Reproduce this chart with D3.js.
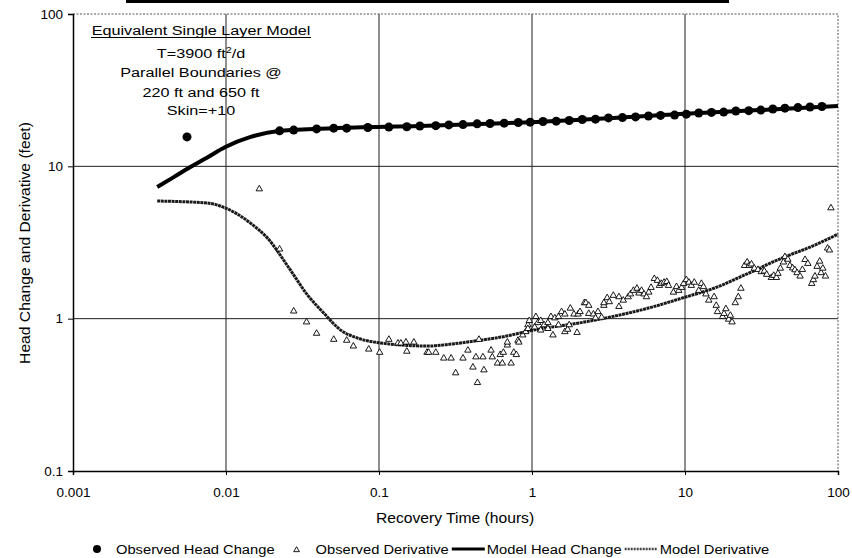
<!DOCTYPE html>
<html>
<head>
<meta charset="utf-8">
<script src="https://cdn.jsdelivr.net/npm/d3@7"></script>
<style>
  body { margin: 0; background: #fff; }
  text { font-family: "Liberation Sans", Arial, sans-serif; fill: #000; }
</style>
</head>
<body>
<div id="chart"></div>
<script>
// observed head change (hours, feet)
var obsHeadT = [0.00556, 0.0224, 0.0277, 0.0391, 0.0506, 0.0615, 0.0845, 0.116, 0.152, 0.185,
    0.235, 0.286, 0.354, 0.438, 0.532, 0.658, 0.813, 0.973, 1.18, 1.44,
    1.75, 2.13, 2.60, 3.16, 3.90, 4.75, 5.77, 6.92, 8.55, 10.2,
    12.3, 14.9, 17.9, 21.5, 26.1, 31.3, 37.5, 45.0, 54.7, 65.6, 78.5];
var obsHeadV = [15.6, 17.1, 17.3, 17.6, 17.8, 17.8, 18.0, 18.1, 18.2, 18.4,
    18.5, 18.7, 18.8, 19.0, 19.1, 19.2, 19.4, 19.5, 19.7, 19.8,
    20.0, 20.3, 20.4, 20.8, 20.9, 21.1, 21.4, 21.6, 21.7, 22.0,
    22.4, 22.6, 22.7, 23.1, 23.2, 23.4, 23.8, 24.1, 24.3, 24.5, 24.7];

// observed derivative
var obsDerivT = [0.0165, 0.0224, 0.0277, 0.0336, 0.0391, 0.0506, 0.0615, 0.068, 0.0857, 0.101,
    0.116, 0.133, 0.139, 0.150, 0.152, 0.169, 0.206, 0.211, 0.235, 0.265, 0.296,
    0.317, 0.354, 0.381, 0.411, 0.43, 0.44, 0.45, 0.478, 0.485, 0.54, 0.55,
    0.595, 0.62, 0.64, 0.65, 0.69, 0.69, 0.73, 0.76, 0.79, 0.81, 0.82, 0.87, 0.91,
    0.94, 0.94, 0.96, 1.04, 1.06, 1.09, 1.14, 1.14, 1.2, 1.27, 1.27, 1.33, 1.37, 1.41,
    1.49, 1.49, 1.56, 1.64, 1.64, 1.71, 1.75, 1.78, 1.88, 1.97, 2.0, 2.06, 2.2, 2.25,
    2.35, 2.35, 2.52, 2.6, 2.7, 2.85, 2.95, 2.95, 3.1, 3.2, 3.4, 3.7, 3.7, 3.95, 4.25,
    4.4, 4.6, 4.85, 5.0, 5.2, 5.4, 5.6, 5.8, 6.0, 6.3, 6.6, 6.8, 7.0, 7.3, 7.6, 7.8, 8.4,
    8.8, 9.1, 9.5, 9.8, 10.2, 10.6, 11.0, 11.5, 12.3, 12.8, 13.2, 13.7, 14.3, 15.5, 16.0, 16.3, 17.6,
    18.0, 18.5, 19.3, 19.8, 20.3, 21.3, 22.3, 23.2, 24.5, 25.5, 26.3, 27.2, 28.4, 30.0, 31.5,
    33.0, 34.2, 36.7, 38.0, 39.6, 40.5, 42.0, 44.0, 45.0, 47.0, 48.5, 50.5, 52.3, 54.0, 56.5,
    58.5, 60.9, 63.5, 67.3, 69.0, 70.7, 73.0, 75.9, 77.5, 79.6, 82.8, 85.5, 87.9, 89.9];
var obsDerivV = [7.1, 2.86, 1.12, 0.95, 0.80, 0.73, 0.72, 0.66, 0.63, 0.60,
    0.73, 0.69, 0.69, 0.70, 0.61, 0.70, 0.60, 0.60, 0.60, 0.55, 0.55,
    0.44, 0.55, 0.62, 0.48, 0.56, 0.38, 0.73, 0.56, 0.46, 0.62, 0.56,
    0.51, 0.58, 0.51, 0.60, 0.67, 0.70, 0.51, 0.60, 0.58, 0.72, 0.70, 0.78, 0.82,
    0.91, 0.86, 0.97, 0.88, 1.03, 0.94, 0.97, 0.84, 0.91, 0.94, 0.86, 1.03, 0.78, 1.01,
    1.03, 0.91, 1.11, 0.82, 1.07, 0.85, 0.91, 1.17, 1.07, 0.81, 1.07, 1.11, 1.27, 1.27,
    1.08, 1.22, 1.07, 1.01, 1.11, 1.02, 1.22, 1.27, 1.37, 1.29, 1.42, 1.20, 1.39, 1.32, 1.39,
    1.45, 1.53, 1.58, 1.47, 1.53, 1.45, 1.39, 1.49, 1.60, 1.83, 1.78, 1.65, 1.70, 1.73, 1.75, 1.65, 1.49,
    1.62, 1.53, 1.60, 1.70, 1.80, 1.73, 1.65, 1.73, 1.53, 1.70, 1.62, 1.45, 1.32, 1.39, 1.22, 1.11, 1.03,
    1.08, 1.16, 0.99, 1.05, 0.95, 1.27, 1.39, 1.58, 2.23, 2.35, 2.23, 2.28, 2.14, 2.10, 2.03,
    2.05, 1.95, 1.86, 1.92, 1.86, 1.98, 2.14, 2.35, 2.55, 2.45, 2.23, 2.15, 2.09, 2.00, 1.90,
    2.10, 2.44, 2.30, 1.70, 1.80, 1.90, 2.20, 2.38, 2.00, 2.14, 1.90, 2.90, 2.82, 5.33];

// model curves
var modelHeadT = [0.00355, 0.0045, 0.00585, 0.0075, 0.0099, 0.0145, 0.0227, 0.0506, 0.185, 1.0, 10, 100];
var modelHeadV = [7.31, 8.43, 9.9, 11.4, 13.4, 15.6, 17.1, 17.8, 18.4, 19.5, 22.1, 24.9];
var modelDerivT = [0.00355, 0.00755, 0.00994, 0.01445, 0.01866, 0.0264, 0.0341, 0.0435, 0.0562, 0.0726,
    0.1028, 0.209, 0.296, 0.465, 0.628, 1.02, 2.20, 5.77, 10.1, 15.6, 26.1, 43.0, 70.6, 100];
var modelDerivV = [5.92, 5.74, 5.32, 4.24, 3.38, 2.08, 1.43, 1.09, 0.841, 0.746,
    0.692, 0.661, 0.681, 0.723, 0.757, 0.841, 0.950, 1.174, 1.387, 1.589, 1.99, 2.50, 3.04, 3.59];

var xTicks = [0.001, 0.01, 0.1, 1, 10, 100];
var xTickLabels = ["0.001", "0.01", "0.1", "1", "10", "100"];
var yTicks = [0.1, 1, 10, 100];
var yTickLabels = ["0.1", "1", "10", "100"];

var notes = ["Equivalent Single Layer Model", "T=3900 ft", "Parallel Boundaries @", "220 ft and 650 ft", "Skin=+10"];
var legendLabels = ["Observed Head Change", "Observed Derivative", "Model Head Change", "Model Derivative"];

var svgWidth = 852;
var svgHeight = 558;
var margin = {top: 14, right: 14, bottom: 87, left: 73};
var width = svgWidth - margin.left - margin.right;
var height = svgHeight - margin.top - margin.bottom;

var svg = d3.select("#chart")
    .append("svg")
    .attr("width", svgWidth)
    .attr("height", svgHeight);

// remnant of the cropped title bar
svg.append("rect")
    .attr("x", 126).attr("y", 0)
    .attr("width", 603).attr("height", 3)
    .attr("fill", "#000");

var chartGroup = svg.append("g")
    .attr("transform", `translate(${margin.left}, ${margin.top})`);

var x = d3.scaleLog().domain([0.001, 100]).range([0, width]);
var y = d3.scaleLog().domain([0.1, 100]).range([height, 0]);

// grid lines at decades
chartGroup.append("g")
    .selectAll("line")
    .data(xTicks.slice(1, -1))
    .enter()
    .append("line")
    .attr("x1", d => x(d)).attr("x2", d => x(d))
    .attr("y1", 0).attr("y2", height)
    .attr("stroke", "#1e1e1e").attr("stroke-width", 1);

chartGroup.append("g")
    .selectAll("line")
    .data(yTicks.slice(1, -1))
    .enter()
    .append("line")
    .attr("x1", 0).attr("x2", width)
    .attr("y1", d => y(d)).attr("y2", d => y(d))
    .attr("stroke", "#1e1e1e").attr("stroke-width", 1);

// dotted top and right border
chartGroup.append("path")
    .attr("d", `M0,${y(100)}H${x(100)}V${y(0.1)}`)
    .attr("fill", "none")
    .attr("stroke", "#555")
    .attr("stroke-dasharray", "2,1.5");

// axes
var bottomAxis = d3.axisBottom(x)
    .tickValues(xTicks)
    .tickFormat((d, i) => xTickLabels[i])
    .tickSize(4)
    .tickPadding(12);
var leftAxis = d3.axisLeft(y)
    .tickValues(yTicks)
    .tickFormat((d, i) => yTickLabels[i])
    .tickSize(5)
    .tickPadding(5);

var xAxisG = chartGroup.append("g")
    .attr("transform", `translate(0, ${height})`)
    .call(bottomAxis);
var yAxisG = chartGroup.append("g")
    .call(leftAxis);

[xAxisG, yAxisG].forEach(function (g) {
    g.select(".domain").attr("stroke", "#000").attr("stroke-width", 1.5);
    g.selectAll(".tick line").attr("stroke", "#000");
    g.selectAll(".tick text")
        .attr("font-size", "13.5px")
        .attr("font-family", "'Liberation Sans', Arial, sans-serif")
        .attr("fill", "#000");
});

var line = d3.line()
    .x(d => x(d[0]))
    .y(d => y(d[1]))
    .curve(d3.curveMonotoneX);

// model derivative
chartGroup.append("path")
    .datum(d3.zip(modelDerivT, modelDerivV))
    .attr("d", line)
    .attr("fill", "none")
    .attr("stroke", "#1a1a1a")
    .attr("stroke-width", 3)
    .attr("stroke-dasharray", "3,0.6");

// model head change
chartGroup.append("path")
    .datum(d3.zip(modelHeadT, modelHeadV))
    .attr("d", line)
    .attr("fill", "none")
    .attr("stroke", "#000")
    .attr("stroke-width", 4);

// observed derivative triangles
var tri = d3.symbol().type(d3.symbolTriangle).size(18);
chartGroup.selectAll(".deriv")
    .data(d3.zip(obsDerivT, obsDerivV))
    .enter()
    .append("path")
    .classed("deriv", true)
    .attr("d", tri)
    .attr("transform", d => `translate(${x(d[0])},${y(d[1])})`)
    .attr("fill", "#fff")
    .attr("stroke", "#000")
    .attr("stroke-width", 0.9);

// observed head change dots
chartGroup.selectAll(".head")
    .data(d3.zip(obsHeadT, obsHeadV))
    .enter()
    .append("circle")
    .classed("head", true)
    .attr("cx", d => x(d[0]))
    .attr("cy", d => y(d[1]))
    .attr("r", 4.5)
    .attr("fill", "#000");

// annotation block
var noteY = [35, 58, 77, 97, 115];
var noteG = svg.append("g");
notes.forEach(function (t, i) {
    var txt = noteG.append("text")
        .attr("transform", `translate(201, ${noteY[i]}) scale(1.2, 1)`)
        .attr("text-anchor", "middle")
        .attr("font-size", "13.5px")
        .text(t);
    if (i === 1) {
        txt.append("tspan").attr("dy", -5).attr("font-size", "9px").text("2");
        txt.append("tspan").attr("dy", 5).text("/d");
    }
});
noteG.append("line")
    .attr("x1", 91).attr("x2", 311)
    .attr("y1", 37.5).attr("y2", 37.5)
    .attr("stroke", "#000").attr("stroke-width", 1);

// axis titles
svg.append("text")
    .attr("transform", `translate(455, 523) scale(1.08, 1)`)
    .attr("text-anchor", "middle")
    .attr("font-size", "14.5px")
    .text("Recovery Time (hours)");

svg.append("text")
    .attr("transform", `translate(30, 243) rotate(-90) scale(1.08, 1)`)
    .attr("text-anchor", "middle")
    .attr("font-size", "14.5px")
    .text("Head Change and Derivative (feet)");

// legend
var legend = svg.append("g").attr("transform", "translate(0, 549)");
var lx = 97;
var legendStretch = 1.09;
legendLabels.forEach(function (label, i) {
    if (i === 0) {
        legend.append("circle").attr("cx", lx).attr("cy", 0).attr("r", 4).attr("fill", "#000");
        lx += 19;
    } else if (i === 1) {
        legend.append("path").attr("d", d3.symbol().type(d3.symbolTriangle).size(14))
            .attr("transform", `translate(${lx}, 1)`)
            .attr("fill", "#fff").attr("stroke", "#000").attr("stroke-width", 0.9);
        lx += 19;
    } else {
        legend.append("line")
            .attr("x1", lx).attr("x2", lx + 33)
            .attr("y1", 0).attr("y2", 0)
            .attr("stroke", i === 2 ? "#000" : "#444")
            .attr("stroke-width", i === 2 ? 3 : 2.5)
            .attr("stroke-dasharray", i === 2 ? null : "2,1");
        lx += 35;
    }
    var t = legend.append("text")
        .attr("transform", `translate(${lx}, 5) scale(${legendStretch}, 1)`)
        .attr("font-size", "13.5px")
        .text(label);
    lx += t.node().getComputedTextLength() * legendStretch + (i === 0 ? 22 : 3);
});
</script>
</body>
</html>
